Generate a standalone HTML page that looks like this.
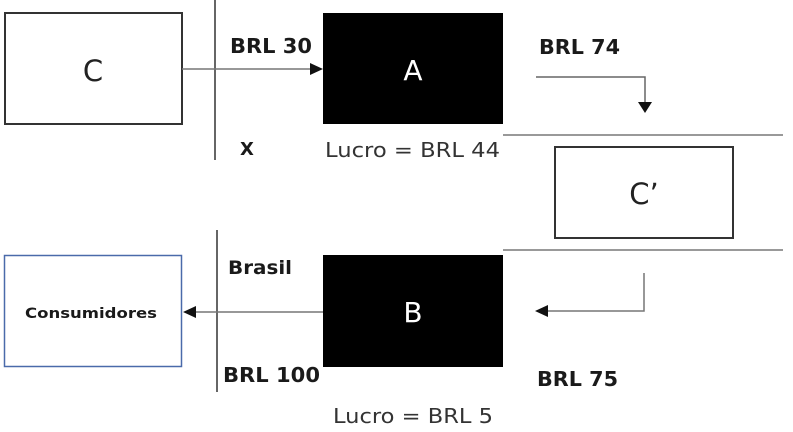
<!DOCTYPE html>
<html><head><meta charset="utf-8"><style>
html,body{margin:0;padding:0;background:#fff;}
svg{display:block;}
text{font-family:"DejaVu Sans","Liberation Sans",sans-serif;}
.b{font-weight:bold;fill:#1a1a1a;}
.r{fill:#333;}
</style></head><body>
<svg width="793" height="432" viewBox="0 0 793 432" xmlns="http://www.w3.org/2000/svg">
<rect x="0" y="0" width="793" height="432" fill="#fff"/>
<!-- Box C -->
<rect x="5" y="13" width="177" height="111" fill="#fff" stroke="#333" stroke-width="2"/>
<text x="93" y="81" font-size="29" text-anchor="middle" fill="#222">C</text>
<!-- vertical line 1 -->
<line x1="215" y1="0" x2="215" y2="160" stroke="#666" stroke-width="2"/>
<!-- arrow C->A -->
<line x1="182" y1="69" x2="312" y2="69" stroke="#777" stroke-width="1.5"/>
<polygon points="323,69 310,63 310,75" fill="#111"/>
<!-- Box A -->
<rect x="323" y="13" width="180" height="111" fill="#000"/>
<text x="413" y="80" font-size="28" text-anchor="middle" fill="#fff">A</text>
<text x="230" y="53" font-size="20" class="b" textLength="82" lengthAdjust="spacingAndGlyphs">BRL 30</text>
<text x="240" y="155" font-size="18" class="b">X</text>
<text x="325" y="157" font-size="20" class="r" textLength="175" lengthAdjust="spacingAndGlyphs">Lucro = BRL 44</text>
<!-- BRL 74 and arrow -->
<text x="539" y="54" font-size="20" class="b" textLength="81" lengthAdjust="spacingAndGlyphs">BRL 74</text>
<polyline points="536,77 645,77 645,104" fill="none" stroke="#666" stroke-width="1.5"/>
<polygon points="645,113 638,102 652,102" fill="#111"/>
<!-- horizontal lines -->
<line x1="503" y1="135" x2="783" y2="135" stroke="#999" stroke-width="2"/>
<line x1="503" y1="250" x2="783" y2="250" stroke="#999" stroke-width="2"/>
<!-- Box C' -->
<rect x="555" y="147" width="178" height="91" fill="#fff" stroke="#333" stroke-width="2"/>
<text x="644" y="204" font-size="29" text-anchor="middle" fill="#222">C’</text>
<!-- C' -> B arrow -->
<polyline points="644,273 644,311 546,311" fill="none" stroke="#777" stroke-width="1.5"/>
<polygon points="535,311 548,305 548,317" fill="#111"/>
<!-- Box B -->
<rect x="323" y="255" width="180" height="112" fill="#000"/>
<text x="413" y="322" font-size="28" text-anchor="middle" fill="#fff">B</text>
<text x="537" y="386" font-size="20" class="b" textLength="81" lengthAdjust="spacingAndGlyphs">BRL 75</text>
<text x="333" y="423" font-size="20" class="r" textLength="160" lengthAdjust="spacingAndGlyphs">Lucro = BRL 5</text>
<!-- vertical line 2 -->
<line x1="217" y1="230" x2="217" y2="392" stroke="#666" stroke-width="2"/>
<text x="228" y="274" font-size="19" class="b" textLength="64" lengthAdjust="spacingAndGlyphs">Brasil</text>
<text x="223" y="382" font-size="20" class="b" textLength="97" lengthAdjust="spacingAndGlyphs">BRL 100</text>
<!-- B -> Consumidores arrow -->
<line x1="195" y1="312" x2="323" y2="312" stroke="#777" stroke-width="1.5"/>
<polygon points="183,312 196,306 196,318" fill="#111"/>
<!-- Consumidores box -->
<rect x="4.5" y="255.5" width="177" height="111" fill="#fff" stroke="#4a6aaa" stroke-width="1.5"/>
<text x="25" y="318" font-size="14" class="b" textLength="132" lengthAdjust="spacingAndGlyphs">Consumidores</text>
</svg>
</body></html>
